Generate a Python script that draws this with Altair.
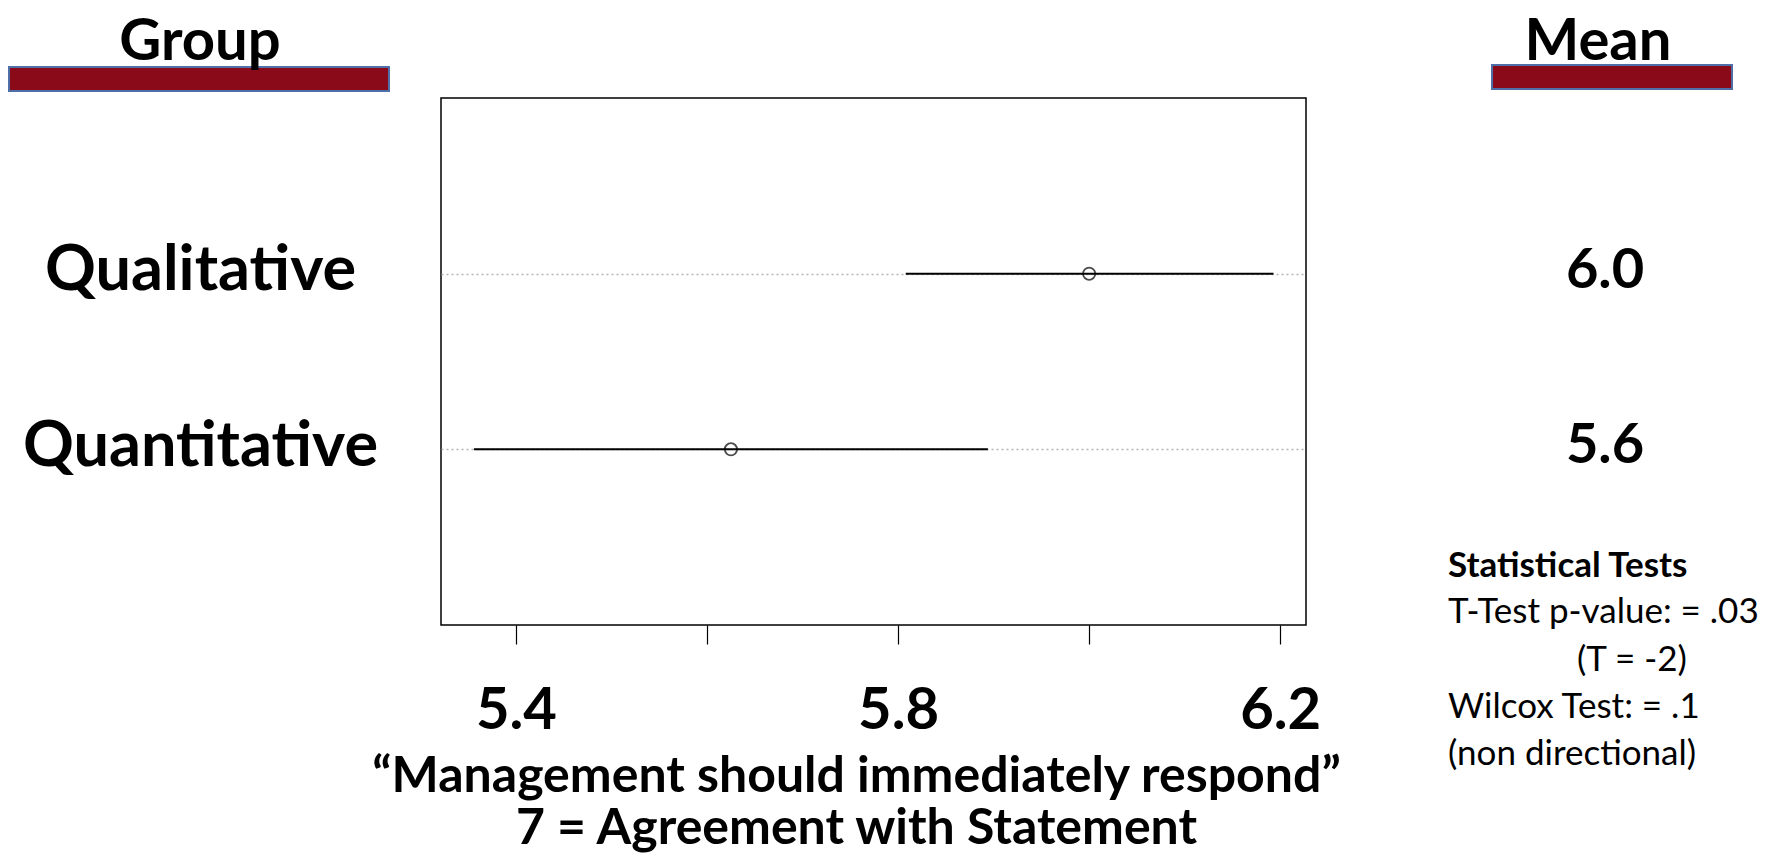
import altair as alt
import pandas as pd

# ---- data ----
groups = ["Qualitative", "Quantitative"]
means = [6.0, 5.625]
lows = [5.808, 5.356]
highs = [6.193, 5.894]
tick_values = [5.4, 5.6, 5.8, 6.0, 6.2]
tick_labels_shown = ["5.4", "5.8", "6.2"]
x_title = ["\u201cManagement should immediately respond\u201d", "7 = Agreement with Statement"]
stats_title = "Statistical Tests"
stats_lines = ["T-Test p-value: = .03", "(T = -2)", "Wilcox Test: = .1", "(non directional)"]

df = pd.DataFrame({"group": groups, "mean": means, "low": lows, "high": highs})

FONT = "Lato"
x_scale = alt.Scale(domain=[5.3215, 6.227], nice=False, zero=False)
shown = "[" + ",".join("'" + s + "'" for s in tick_labels_shown) + "]"
x_axis = alt.Axis(
    values=tick_values,
    labelExpr=f"indexof({shown}, format(datum.value, '.1f')) >= 0 ? format(datum.value, '.1f') : ''",
    grid=False, domain=False, tickColor="black", tickWidth=1.2, tickSize=19,
    labelPadding=84, labelBaseline="alphabetic", labelFont=FONT, labelFontSize=58,
    labelFontWeight="bold", labelColor="black", labelOverlap=False, labelFlush=False,
    title=x_title, titleX=415, titleY=166, titleAlign="center", titleBaseline="alphabetic",
    titleFont=FONT, titleFontSize=50, titleFontWeight="bold", titleColor="black",
    titleLineHeight=52,
)
y_axis = alt.Axis(
    title=None, domain=False, ticks=False, tickSize=0, labelPadding=241, labelLimit=0,
    labelAlign="center", labelBaseline="middle", labelFont=FONT, labelFontSize=63,
    labelFontWeight="bold", labelColor="black", labelOffset=-3, grid=True, gridColor="#b4b4b4",
    gridDash=[2, 3], gridWidth=1.4,
)
y_scale = alt.Scale(type="point", padding=1, domain=groups)

def Y():
    return alt.Y("group:N", scale=y_scale, axis=y_axis)

rules = alt.Chart(df).mark_rule(color="black", strokeWidth=2).encode(
    x=alt.X("low:Q", scale=x_scale, axis=x_axis), x2="high:Q", y=Y()
)
points = alt.Chart(df).mark_point(shape="circle", filled=False, size=150, color="black", strokeWidth=1.8).encode(
    x=alt.X("mean:Q", scale=x_scale, axis=x_axis), y=Y()
)
mean_text = alt.Chart(df).mark_text(
    font=FONT, fontSize=56, fontWeight="bold", align="center", baseline="middle", dy=-3, color="black"
).encode(x=alt.value(1164), y=Y(), text=alt.Text("mean:Q", format=".1f"))

def label(text, x, y, size, weight="bold", align="center"):
    return alt.Chart(pd.DataFrame({"t": [text]})).mark_text(
        font=FONT, fontSize=size, fontWeight=weight, align=align, baseline="alphabetic", color="black"
    ).encode(x=alt.value(x), y=alt.value(y), text="t:N")

def bar(x1, x2, y1, y2):
    return alt.Chart(pd.DataFrame({"t": [0]})).mark_rect(
        fill="#8B0A1A", stroke="#4F6FA8", strokeWidth=2
    ).encode(x=alt.value(x1), x2=alt.value(x2), y=alt.value(y1), y2=alt.value(y2))

group_head = label("Group", -241, -38, 58)
mean_head = label("Mean", 1157, -38, 58)
group_bar = bar(-432, -52, -31, -7)
mean_bar = bar(1051, 1291, -33, -9)

stats = [label(stats_title, 1007, 479, 35, "bold", "left")]
stats_x = [1007, 1136, 1007, 1007]
stats_y = [525, 573, 620, 667]
for s, sx, sy in zip(stats_lines, stats_x, stats_y):
    stats.append(label(s, sx, sy, 35, "normal", "left"))

chart = alt.layer(
    rules, points, mean_text, group_bar, mean_bar, group_head, mean_head, *stats
).properties(
    width=865, height=527,
    padding={"left": 433, "top": 90, "right": 459, "bottom": 228},
    autosize=alt.AutoSizeParams(type="none"),
).configure_view(stroke="black", strokeWidth=1.5)

chart.save("out.html", embed_options={"renderer": "svg", "actions": False})
